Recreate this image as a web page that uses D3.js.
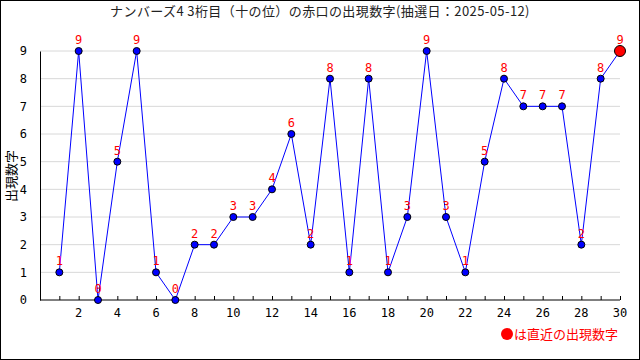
<!DOCTYPE html>
<html><head><meta charset="utf-8">
<script src="https://cdn.jsdelivr.net/npm/d3@7"></script>
<style>body{margin:0;background:#fff}svg{display:block}</style>
</head><body>
<script>
const title = "ナンバーズ4 3桁目（十の位）の赤口の出現数字(抽選日：2025-05-12)";
const yLabel = "出現数字";
const legendText = "は直近の出現数字";
const draws = d3.range(1, 31);
const values = [1,9,0,5,9,1,0,2,2,3,3,4,6,2,8,1,8,1,3,9,3,1,5,8,7,7,7,2,8,9];
const xTicks = d3.range(2, 31, 2);
const yTicks = d3.range(0, 10);

const W = 640, H = 360;
const svg = d3.select("body").append("svg").attr("width", W).attr("height", H);
const font = "'DejaVu Sans Mono', monospace";
svg.append("rect").attr("x",0.5).attr("y",0.5).attr("width",W-1).attr("height",H-1)
  .attr("fill","#fff").attr("stroke","#000");

const x = d3.scaleLinear().domain([0,30]).range([40,620]);
const y = d3.scaleLinear().domain([0,9]).range([300,51]);

// grid
svg.append("g").selectAll("line").data(yTicks.filter(d=>d>0)).join("line")
  .attr("x1",40).attr("x2",620).attr("y1",d=>y(d)).attr("y2",d=>y(d))
  .attr("stroke","#d8d8d8");

// y axis
const ya = svg.append("g").attr("transform","translate(40,0)")
  .call(d3.axisLeft(y).tickValues(yTicks).tickSize(0).tickPadding(13));
ya.select(".domain").attr("stroke","#000");
ya.selectAll("text").attr("font-family",font).attr("font-size",12).attr("fill","#000");

// x axis
const xa = svg.append("g").attr("transform","translate(0,300)")
  .call(d3.axisTop(x).tickValues(draws).tickSize(4).tickFormat(""));
xa.select(".domain").attr("stroke","#000").attr("d","M40,0H620");
xa.selectAll("line").attr("stroke","#000");
svg.append("g").selectAll("text").data(xTicks).join("text")
  .attr("x",d=>x(d)).attr("y",317).attr("text-anchor","middle")
  .attr("font-family",font).attr("font-size",12).text(d=>d);

// title
svg.append("text").attr("x",320).attr("y",16).attr("text-anchor","middle")
  .attr("font-family","'Noto Sans CJK JP', sans-serif").attr("font-size",13)
  .attr("letter-spacing",0.4).attr("fill","#222").text(title);

// y label
svg.append("text").attr("transform","translate(16,176) rotate(-90)").attr("text-anchor","middle")
  .attr("font-family","'Noto Sans CJK JP', sans-serif").attr("font-size",13).text(yLabel);

// line
const data = draws.map((d,i)=>({d, v: values[i]}));
svg.append("path").datum(data).attr("fill","none").attr("stroke","#0000ff").attr("stroke-width",1)
  .attr("d", d3.line().x(p=>x(p.d)).y(p=>y(p.v)));

// points
svg.append("g").selectAll("circle").data(data.slice(0,-1)).join("circle")
  .attr("cx",p=>x(p.d)).attr("cy",p=>y(p.v)).attr("r",3.5)
  .attr("fill","#0000ff").attr("stroke","#000").attr("stroke-width",1);
const last = data[data.length-1];
svg.append("circle").attr("cx",x(last.d)).attr("cy",y(last.v)).attr("r",5.5)
  .attr("fill","#ff0000").attr("stroke","#000");

// value labels
svg.append("g").selectAll("text").data(data).join("text")
  .attr("x",p=>x(p.d)).attr("y",p=>y(p.v)-7).attr("text-anchor","middle")
  .attr("font-family",font).attr("font-size",12).attr("fill","#ff0000").text(p=>p.v);

// legend
svg.append("circle").attr("cx",507).attr("cy",334).attr("r",6).attr("fill","#ff0000");
svg.append("text").attr("x",514).attr("y",339).attr("font-family","'Noto Sans CJK JP', sans-serif")
  .attr("font-size",13).attr("fill","#ff0000").text(legendText);
</script>
</body></html>
